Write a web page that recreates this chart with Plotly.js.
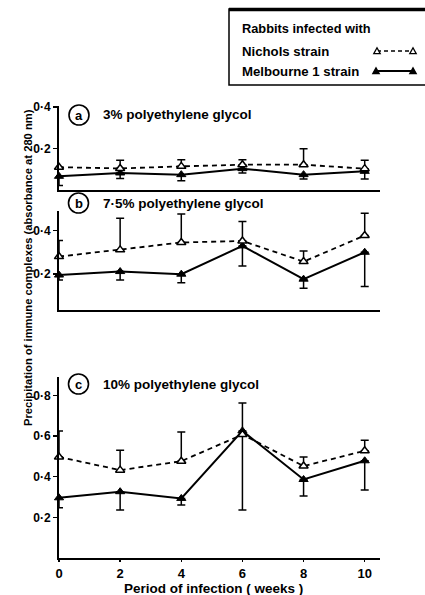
<!DOCTYPE html>
<html><head><meta charset="utf-8">
<script src="https://cdn.plot.ly/plotly-3.0.1.min.js"></script>
<style>html,body{margin:0;padding:0;background:#fff}</style>
</head><body><div id="chart" style="width:425px;height:595px"></div>
<script>
// ---------- data ----------
const weeks = [0, 2, 4, 6, 8, 10];
const xTickVals = [0, 2, 4, 6, 8, 10];
const xTickText = ['0', '2', '4', '6', '8', '10'];

// (a) 3% polyethylene glycol
const nicholsA = [0.110, 0.104, 0.114, 0.122, 0.122, 0.103];
const nicholsAUpper = [0.110, 0.143, 0.146, 0.146, 0.199, 0.144];
const melbourneA = [0.066, 0.082, 0.074, 0.103, 0.074, 0.090];
const melbourneALower = [0.022, 0.055, 0.045, 0.082, 0.053, 0.053];

// (b) 7.5% polyethylene glycol
const nicholsB = [0.280, 0.311, 0.345, 0.352, 0.257, 0.377];
const nicholsBUpper = [0.354, 0.457, 0.476, 0.442, 0.306, 0.480];
const melbourneB = [0.195, 0.211, 0.199, 0.329, 0.176, 0.300];
const melbourneBLower = [0.172, 0.172, 0.160, 0.237, 0.134, 0.142];

// (c) 10% polyethylene glycol
const nicholsC = [0.497, 0.432, 0.476, 0.607, 0.452, 0.527];
const nicholsCUpper = [0.625, 0.530, 0.620, 0.762, 0.497, 0.579];
const melbourneC = [0.296, 0.326, 0.293, 0.625, 0.386, 0.478];
const melbourneCLower = [0.247, 0.236, 0.260, 0.236, 0.305, 0.334];

const yTickValsA = [0.2, 0.4];
const yTickTextA = ['0·2', '0·4'];
const yTickValsB = [0.2, 0.4];
const yTickTextB = ['0·2', '0·4'];
const yTickValsC = [0.2, 0.4, 0.6, 0.8];
const yTickTextC = ['0·2', '0·4', '0·6', '0·8'];

const panelLetters = ['a', 'b', 'c'];
const panelTitles = ['3% polyethylene glycol', '7·5% polyethylene glycol', '10% polyethylene glycol'];
const seriesNames = ['Nichols strain', 'Melbourne 1 strain'];
const legendTitle = 'Rabbits infected with';
const xTitle = 'Period of infection ( weeks )';
const yTitle = 'Precipitation of immune complexes (absorbance at 280 nm)';

// ---------- layout helpers (pixel -> paper) ----------
const W = 425, H = 595;
const px = v => v / W;
const py = v => 1 - v / H;
const FAM = 'Liberation Sans, Arial, sans-serif';
const font = (size) => ({family: FAM, size: size, color: '#000', weight: 'bold'});

function nichols(y, upper, xa, ya) {
  return {
    x: weeks, y: y, xaxis: xa, yaxis: ya, type: 'scatter', mode: 'lines+markers',
    name: seriesNames[0], showlegend: false, cliponaxis: false,
    line: {color: '#000', width: 1.8, dash: '5px,4px'},
    marker: {symbol: 'triangle-up', size: 8, color: '#fff', line: {color: '#000', width: 1.5}},
    error_y: {type: 'data', symmetric: false,
      array: upper.map((u, i) => u - y[i]), arrayminus: y.map(() => 0),
      color: '#000', thickness: 1.5, width: 4}
  };
}
function melbourne(y, lower, xa, ya) {
  return {
    x: weeks, y: y, xaxis: xa, yaxis: ya, type: 'scatter', mode: 'lines+markers',
    name: seriesNames[1], showlegend: false, cliponaxis: false,
    line: {color: '#000', width: 2},
    marker: {symbol: 'triangle-up', size: 8, color: '#000', line: {color: '#000', width: 1}},
    error_y: {type: 'data', symmetric: false,
      array: y.map(() => 0), arrayminus: y.map((v, i) => v - lower[i]),
      color: '#000', thickness: 1.5, width: 4}
  };
}

const data = [
  melbourne(melbourneA, melbourneALower, 'x3', 'y3'),
  nichols(nicholsA, nicholsAUpper, 'x3', 'y3'),
  melbourne(melbourneB, melbourneBLower, 'x2', 'y2'),
  nichols(nicholsB, nicholsBUpper, 'x2', 'y2'),
  melbourne(melbourneC, melbourneCLower, 'x', 'y'),
  nichols(nicholsC, nicholsCUpper, 'x', 'y')
];

const xDomain = [px(59), px(380)];
const baseX = {
  domain: xDomain, range: [0, 10.5], showgrid: false, zeroline: false,
  showline: true, linecolor: '#000', linewidth: 2, fixedrange: true
};
const baseY = {
  showgrid: false, zeroline: false, showline: true, linecolor: '#000', linewidth: 2,
  ticks: 'outside', ticklen: 4, tickwidth: 1.5, tickcolor: '#000',
  tickfont: font(12), fixedrange: true
};

const shapes = [];
const annotations = [];

// panel labels (circled letters + titles)
const labelPos = [[79, 115], [78.5, 203], [78.5, 384]];
labelPos.forEach((p, i) => {
  shapes.push({type: 'circle', xref: 'paper', yref: 'paper',
    x0: px(p[0] - 10), x1: px(p[0] + 10), y0: py(p[1] + 10), y1: py(p[1] - 10),
    line: {color: '#000', width: 1.6}});
  annotations.push({xref: 'paper', yref: 'paper', x: px(p[0]), y: py(p[1] + 0.5),
    text: panelLetters[i], showarrow: false, xanchor: 'center', yanchor: 'middle', font: font(13)});
  annotations.push({xref: 'paper', yref: 'paper', x: px(101), y: py(p[1]),
    text: panelTitles[i], showarrow: false, xanchor: 'left', yanchor: 'middle', font: font(13.5)});
});

// legend box
shapes.push({type: 'rect', xref: 'paper', yref: 'paper',
  x0: px(229), x1: px(440), y0: py(85), y1: py(9), line: {color: '#000', width: 1.5}});
shapes.push({type: 'line', xref: 'paper', yref: 'paper',
  x0: px(229), x1: px(440), y0: py(9.5), y1: py(9.5), line: {color: '#000', width: 3.5}});
annotations.push({xref: 'paper', yref: 'paper', x: px(240), y: py(28), text: legendTitle,
  showarrow: false, xanchor: 'left', yanchor: 'middle', font: font(12.8)});
annotations.push({xref: 'paper', yref: 'paper', x: px(240), y: py(51), text: seriesNames[0],
  showarrow: false, xanchor: 'left', yanchor: 'middle', font: font(13.2)});
annotations.push({xref: 'paper', yref: 'paper', x: px(240), y: py(71), text: seriesNames[1],
  showarrow: false, xanchor: 'left', yanchor: 'middle', font: font(13.2)});
function tri(cx, cy, filled) {
  const s = 3.2;
  shapes.push({type: 'path', xref: 'paper', yref: 'paper',
    path: 'M' + px(cx - s) + ',' + py(cy + s * 0.8) + ' L' + px(cx + s) + ',' + py(cy + s * 0.8) +
      ' L' + px(cx) + ',' + py(cy - s) + ' Z',
    fillcolor: filled ? '#000' : '#fff', line: {color: '#000', width: 1.3}});
}
shapes.push({type: 'line', xref: 'paper', yref: 'paper', x0: px(377), x1: px(413),
  y0: py(51), y1: py(51), line: {color: '#000', width: 1.6, dash: '4px,3px'}});
shapes.push({type: 'line', xref: 'paper', yref: 'paper', x0: px(376), x1: px(413),
  y0: py(71), y1: py(71), line: {color: '#000', width: 1.8}});
tri(377, 51, false); tri(413, 51, false);
tri(376, 71, true); tri(413, 71, true);

// axis titles
annotations.push({xref: 'paper', yref: 'paper', x: px(28), y: py(268), text: yTitle,
  textangle: -90, showarrow: false, xanchor: 'center', yanchor: 'middle', font: font(11.2)});
annotations.push({xref: 'paper', yref: 'paper', x: px(213), y: py(588), text: xTitle,
  showarrow: false, xanchor: 'center', yanchor: 'middle', font: font(13.5)});

const layout = {
  width: W, height: H, margin: {l: 0, r: 0, t: 0, b: 0},
  paper_bgcolor: '#fff', plot_bgcolor: '#fff', showlegend: false,
  xaxis: Object.assign({}, baseX, {anchor: 'y', ticks: 'outside', ticklen: 2, tickwidth: 1.5,
    tickcolor: '#000', tickvals: xTickVals, ticktext: xTickText, tickfont: font(13)}),
  xaxis2: Object.assign({}, baseX, {anchor: 'y2', showticklabels: false, ticks: ''}),
  xaxis3: Object.assign({}, baseX, {anchor: 'y3', showticklabels: false, ticks: ''}),
  yaxis: Object.assign({}, baseY, {anchor: 'x', domain: [py(558), py(377)], range: [0, 0.89],
    tickvals: yTickValsC, ticktext: yTickTextC}),
  yaxis2: Object.assign({}, baseY, {anchor: 'x2', domain: [py(310), py(211)], range: [0.034, 0.49],
    tickvals: yTickValsB, ticktext: yTickTextB}),
  yaxis3: Object.assign({}, baseY, {anchor: 'x3', domain: [py(190), py(106)], range: [0, 0.405],
    tickvals: yTickValsA, ticktext: yTickTextA}),
  shapes: shapes, annotations: annotations
};

Plotly.newPlot('chart', data, layout, {displayModeBar: false, staticPlot: true});
</script></body></html>
